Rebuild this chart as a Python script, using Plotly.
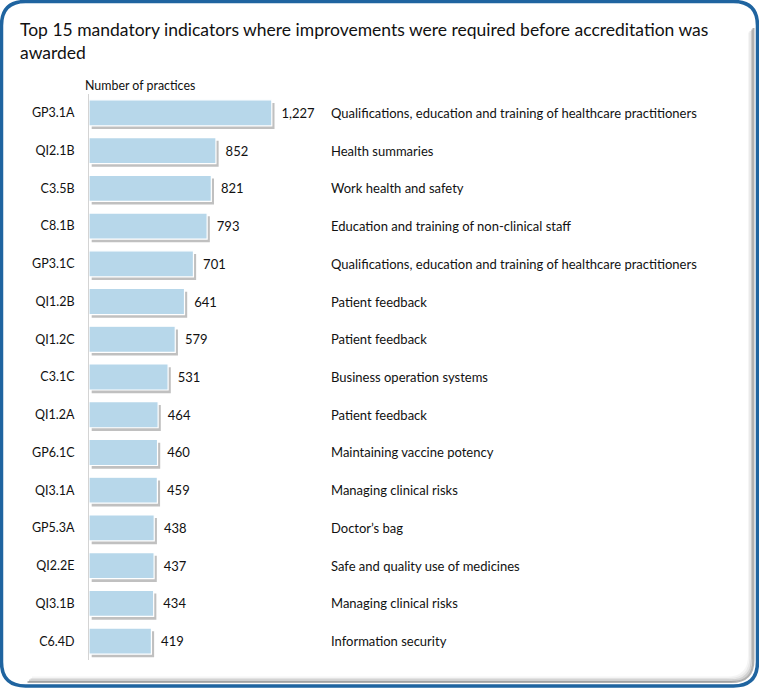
import plotly.graph_objects as go

codes = ["GP3.1A", "QI2.1B", "C3.5B", "C8.1B", "GP3.1C", "QI1.2B", "QI1.2C", "C3.1C",
         "QI1.2A", "GP6.1C", "QI3.1A", "GP5.3A", "QI2.2E", "QI3.1B", "C6.4D"]
practices = [1227, 852, 821, 793, 701, 641, 579, 531, 464, 460, 459, 438, 437, 434, 419]
descriptions = [
    "Qualifications, education and training of healthcare practitioners",
    "Health summaries",
    "Work health and safety",
    "Education and training of non-clinical staff",
    "Qualifications, education and training of healthcare practitioners",
    "Patient feedback",
    "Patient feedback",
    "Business operation systems",
    "Patient feedback",
    "Maintaining vaccine potency",
    "Managing clinical risks",
    "Doctor\u2019s bag",
    "Safe and quality use of medicines",
    "Managing clinical risks",
    "Information security",
]
title_text = "Top 15 mandatory indicators where improvements were required before accreditation was<br>awarded"
axis_title = "Number of practices"

W, H = 759, 688
ML, MR, MT, MB = 89, 0, 94, 28
PW, PH = W - ML - MR, H - MT - MB
PX_PER_UNIT = 0.149
FONT = "Lato"


def px(xp):
    return (xp - ML) / PW


def py(yp):
    return (H - MB - yp) / PH


fig = go.Figure()

# shadow
fig.add_trace(go.Bar(
    y=codes, x=practices, base=18, orientation="h",
    width=0.69, offset=-0.345 + 0.085,
    marker=dict(color="rgba(60,60,60,0.32)", line=dict(width=0)),
    hoverinfo="skip", showlegend=False,
))
fig.add_trace(go.Bar(
    y=codes, x=practices, orientation="h",
    width=0.69, offset=-0.345,
    marker=dict(color="#b7d7ea", line=dict(color="white", width=1.2)),
    texttemplate="\u00a0\u00a0%{x:,}", textposition="outside",
    textfont=dict(family=FONT, size=13, color="#111111"),
    cliponaxis=False, hoverinfo="skip", showlegend=False,
))

annotations = []
for c, d in zip(codes, descriptions):
    annotations.append(dict(x=px(329), y=c, xref="paper", yref="y", text=d,
                            showarrow=False, xanchor="left", yanchor="middle",
                            font=dict(family=FONT, size=13, color="#111111")))
annotations.append(dict(x=px(82.5), y=py(85), xref="paper", yref="paper", text=axis_title,
                        showarrow=False, xanchor="left", yanchor="middle",
                        font=dict(family=FONT, size=12.4, color="#111111")))
annotations.append(dict(x=px(18), y=py(41), xref="paper", yref="paper", text=title_text,
                        showarrow=False, xanchor="left", yanchor="middle", align="left",
                        font=dict(family=FONT, size=17.5, color="#111111")))


def rrect(x0, y0, x1, y1, r):
    def P(a, b):
        return f"{px(a):.5f},{py(b):.5f}"
    return (f"M {P(x0 + r, y0)} L {P(x1 - r, y0)} Q {P(x1, y0)} {P(x1, y0 + r)} "
            f"L {P(x1, y1 - r)} Q {P(x1, y1)} {P(x1 - r, y1)} "
            f"L {P(x0 + r, y1)} Q {P(x0, y1)} {P(x0, y1 - r)} "
            f"L {P(x0, y0 + r)} Q {P(x0, y0)} {P(x0 + r, y0)} Z")


def shadow_path(x0, y0, x1, y1, r):
    def P(a, b):
        return f"{px(a):.5f},{py(b):.5f}"
    return (f"M {P(x1, y0 + r)} L {P(x1, y1 - r)} Q {P(x1, y1)} {P(x1 - r, y1)} "
            f"L {P(x0 + r, y1)}")


shapes = []
for i, op in enumerate([0.30, 0.18, 0.09, 0.04]):
    ins = 4 + i * 1.5
    shapes.append(dict(type="path", xref="paper", yref="paper",
                       path=shadow_path(1.5 + ins, 2 + ins, 757.5 - ins, 686 - ins, 22),
                       line=dict(color=f"rgba(0,0,0,{op})", width=2)))
shapes.append(dict(type="path", xref="paper", yref="paper",
                   path=rrect(1.5, 1.5, 757.5, 686, 24),
                   line=dict(color="#1f64a0", width=3.5)))

fig.update_layout(
    width=W, height=H,
    margin=dict(l=ML, r=MR, t=MT, b=MB),
    paper_bgcolor="white", plot_bgcolor="white",
    barmode="overlay",
    bargap=0.31,
    xaxis=dict(range=[0, PW / PX_PER_UNIT], visible=False, showgrid=False, zeroline=False),
    yaxis=dict(autorange="reversed", showline=True, linecolor="#d4d4d4", linewidth=1,
               showgrid=False, zeroline=False, ticks="outside", ticklen=11, tickcolor="rgba(0,0,0,0)",
               tickfont=dict(family=FONT, size=12.5, color="#111111")),
    annotations=annotations,
    shapes=shapes,
    showlegend=False,
)

fig.write_html("out.html", config={"displayModeBar": False},
               post_script="document.body.style.margin='0';document.body.style.overflow='hidden';")
